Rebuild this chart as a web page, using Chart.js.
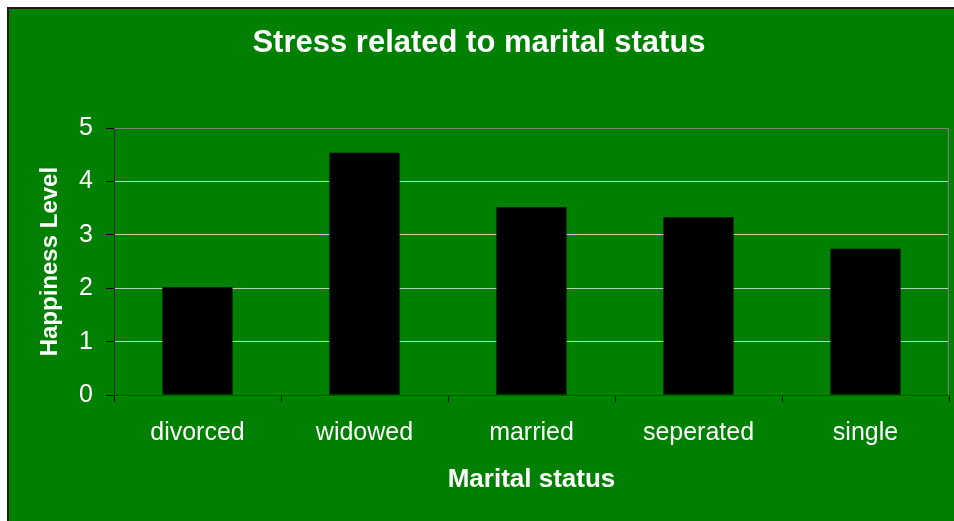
<!DOCTYPE html>
<html>
<head>
<meta charset="utf-8">
<script src="https://cdn.jsdelivr.net/npm/chart.js@4"></script>
<style>
  html, body { margin: 0; padding: 0; background: #fff; overflow: hidden; }
  #frame {
    position: absolute; left: 7px; top: 7px;
    width: 960px; height: 530px;
    background: #008000;
    border-left: 2px solid #1a1a1a; border-top: 2px solid #1a1a1a;
  }
  #c { position: absolute; left: 0; top: 0; }
</style>
</head>
<body>
<div id="frame"><canvas id="c" width="945" height="512"></canvas></div>
<script>
const categories = ['divorced', 'widowed', 'married', 'seperated', 'single'];
const happiness = [2.02, 4.54, 3.52, 3.33, 2.74];
const yTicks = [0, 1, 2, 3, 4, 5];

// gray frame round the plot area (top + right), like the Excel plot border
const plotFrame = {
    id: 'plotFrame',
    beforeDatasetsDraw(chart) {
        const a = chart.chartArea;
        const ctx = chart.ctx;
        ctx.save();
        ctx.strokeStyle = '#808080';
        ctx.lineWidth = 1;
        ctx.beginPath();
        ctx.moveTo(Math.round(a.left) + 0.5, Math.round(a.top) + 0.5);
        ctx.lineTo(Math.round(a.right) - 0.5, Math.round(a.top) + 0.5);
        ctx.lineTo(Math.round(a.right) - 0.5, Math.round(a.bottom));
        ctx.stroke();
        ctx.restore();
    }
};

let ctx = document.getElementById('c').getContext('2d');
new Chart(ctx, {
    type: 'bar',
    data: {
        labels: categories,
        datasets: [{
            label: 'Happiness Level',
            data: happiness,
            backgroundColor: '#000000',
            borderWidth: 0,
            barPercentage: 0.42,
            categoryPercentage: 1
        }]
    },
    options: {
        responsive: false,
        animation: false,
        layout: { padding: { left: 0, right: 5, top: 0, bottom: 0 } },
        plugins: {
            legend: { display: false },
            tooltip: { enabled: false },
            title: {
                display: true,
                text: 'Stress related to marital status',
                color: '#ffffff',
                font: { family: 'Liberation Sans, Arial, sans-serif', size: 31, weight: 'bold', lineHeight: 1.2 },
                padding: { top: 16, bottom: 66 }
            }
        },
        scales: {
            x: {
                grid: { offset: true, drawOnChartArea: false, drawTicks: true, tickLength: 7, color: '#000000' },
                border: { display: true, color: '#333333', width: 1 },
                ticks: {
                    color: '#ffffff',
                    padding: 16,
                    maxRotation: 0,
                    font: { family: 'Liberation Sans, Arial, sans-serif', size: 25 }
                },
                title: {
                    display: true,
                    text: 'Marital status',
                    color: '#ffffff',
                    font: { family: 'Liberation Sans, Arial, sans-serif', size: 26, weight: 'bold', lineHeight: 1.2 },
                    padding: { top: 0, bottom: 26 }
                },
                afterFit(scale) { scale.height = 126; }
            },
            y: {
                min: 0,
                max: 5,
                afterBuildTicks(scale) { scale.ticks = yTicks.map(v => ({ value: v })); },
                grid: {
                    color: (c) => c.tick && c.tick.value === 5 ? '#808080' : '#b8d0b8',
                    tickColor: '#000000',
                    tickLength: 8,
                    drawTicks: true
                },
                border: { display: true, color: '#333333', width: 1 },
                ticks: {
                    color: '#ffffff',
                    padding: 13,
                    font: { family: 'Liberation Sans, Arial, sans-serif', size: 25 }
                },
                title: {
                    display: true,
                    text: 'Happiness Level',
                    color: '#ffffff',
                    font: { family: 'Liberation Sans, Arial, sans-serif', size: 24, weight: 'bold', lineHeight: 1.2 },
                    padding: { top: 27, bottom: 0 }
                },
                afterFit(scale) { scale.width = 105; }
            }
        }
    },
    plugins: [plotFrame]
});
</script>
</body>
</html>
